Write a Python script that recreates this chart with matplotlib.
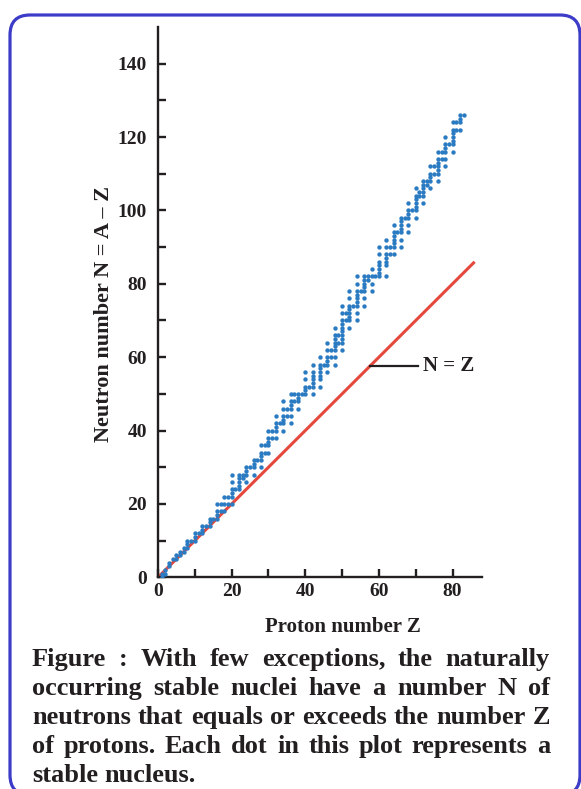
import matplotlib
matplotlib.use('Agg')
import matplotlib.pyplot as plt
from matplotlib.patches import FancyBboxPatch
import numpy as np

plt.rcParams['font.family'] = ['Liberation Serif', 'DejaVu Serif']
plt.rcParams['font.weight'] = 'bold'

ink = '#231f20'

# proton numbers of the stable elements (no Tc, no Pm)
proton_z = [1, 2, 3, 4, 5, 6, 7, 8, 9, 10, 11, 12, 13, 14, 15, 16, 17, 18, 19, 20,
            21, 22, 23, 24, 25, 26, 27, 28, 29, 30, 31, 32, 33, 34, 35, 36, 37, 38, 39, 40,
            41, 42, 44, 45, 46, 47, 48, 49, 50, 51, 52, 53, 54, 55, 56, 57, 58, 59, 60,
            62, 63, 64, 65, 66, 67, 68, 69, 70, 71, 72, 73, 74, 75, 76, 77, 78, 79, 80,
            81, 82, 83]
# neutron numbers of the stable isotopes, one list per element above
neutron_n = [
    [0, 1], [1, 2], [3, 4], [5], [5, 6], [6, 7], [7, 8], [8, 9, 10], [10], [10, 11, 12],
    [12], [12, 13, 14], [14], [14, 15, 16], [16], [16, 17, 18, 20], [18, 20], [18, 20, 22],
    [20, 22], [20, 22, 23, 24, 26, 28],
    [24], [24, 25, 26, 27, 28], [27, 28], [26, 28, 29, 30], [30], [28, 30, 31, 32], [32],
    [30, 32, 33, 34, 36], [34, 36], [34, 36, 37, 38, 40], [38, 40], [38, 40, 41, 42, 44],
    [42], [40, 42, 43, 44, 46, 48], [44, 46], [42, 44, 46, 47, 48, 50], [48, 50],
    [46, 48, 49, 50], [50], [50, 51, 52, 54, 56],
    [52], [50, 52, 53, 54, 55, 56, 58], [52, 54, 55, 56, 57, 58, 60], [58],
    [56, 58, 59, 60, 62, 64], [60, 62], [58, 60, 62, 63, 64, 65, 66, 68], [64, 66],
    [62, 64, 65, 66, 67, 68, 69, 70, 72, 74], [70, 72], [68, 70, 71, 72, 73, 74, 76, 78],
    [74], [70, 72, 74, 75, 76, 77, 78, 80, 82], [78], [74, 76, 78, 79, 80, 81, 82],
    [81, 82], [78, 80, 82, 84], [82], [82, 83, 84, 85, 86, 88, 90],
    [82, 85, 86, 87, 88, 90, 92], [88, 90], [88, 90, 91, 92, 93, 94, 96], [94],
    [90, 92, 94, 95, 96, 97, 98], [98], [94, 96, 98, 99, 100, 102], [100],
    [98, 100, 101, 102, 103, 104, 106], [104, 105], [102, 104, 105, 106, 107, 108],
    [107, 108], [106, 108, 109, 110, 112], [110, 112], [108, 110, 111, 112, 113, 114, 116],
    [114, 116], [112, 114, 116, 117, 118, 120], [118], [116, 118, 119, 120, 121, 122, 124],
    [122, 124], [122, 124, 125, 126], [126],
]
line_z = [0, 86]

caption_lines = [
    'Figure : With few exceptions, the naturally',
    'occurring stable nuclei have a number N of',
    'neutrons that equals or exceeds the number Z',
    'of protons. Each dot in this plot represents a',
    'stable nucleus.',
]

zs, ns = [], []
for z, nlist in zip(proton_z, neutron_n):
    for n in nlist:
        zs.append(z)
        ns.append(n)

W, H = 581, 789
fig = plt.figure(figsize=(W / 100, H / 100), dpi=100)
fig.patch.set_facecolor('white')

# rounded blue frame
frame = FancyBboxPatch((0.10, -0.06), 5.70, 7.80, boxstyle='round,pad=0,rounding_size=0.2',
                       transform=fig.dpi_scale_trans, facecolor='none',
                       edgecolor='#3c3cc8', linewidth=2.3, zorder=0)
fig.patches.append(frame)

ax = fig.add_axes([158 / W, 1 - 577.3 / H, (482 - 158) / W, (577.3 - 27) / H])
ax.plot(line_z, line_z, color='#e5483c', lw=2.2, zorder=2, solid_capstyle='butt')
ax.scatter(zs, ns, s=10, color='#2b7bc2', zorder=3, linewidths=0)

ax.set_xlim(0, 88)
ax.set_ylim(0, 150)
for s in ['top', 'right']:
    ax.spines[s].set_visible(False)
for s in ['left', 'bottom']:
    ax.spines[s].set_linewidth(1.7)
    ax.spines[s].set_color(ink)

ax.set_xticks([0, 20, 40, 60, 80])
ax.set_xticks([10, 30, 50, 70], minor=True)
ax.set_yticks(np.arange(0, 141, 20))
ax.set_yticks(np.arange(10, 131, 20), minor=True)
ax.tick_params(which='both', direction='in', length=6, width=1.7, color=ink,
               labelsize=14, labelcolor=ink)
ax.tick_params(axis='y', which='both', pad=8)
ax.tick_params(axis='x', which='both', pad=4)

# N = Z pointer
ax.plot([57.5, 70.5], [57.5, 57.5], color=ink, lw=1.6, zorder=4)
ax.text(72, 57.5, 'N = Z', fontsize=15, color=ink, va='center', ha='left')

ax.text((343 - 158) / 324, (577.3 - 627) / 550.3, 'Proton number Z', transform=ax.transAxes,
        fontsize=15, color=ink, ha='center', va='center')
ax.text((104 - 158) / 324, (577.3 - 314) / 550.3, 'Neutron number N = A \u2013 Z',
        transform=ax.transAxes, rotation=90, fontsize=16, color=ink, ha='center', va='center')

# justified caption
fig.canvas.draw()
renderer = fig.canvas.get_renderer()
left_px, right_px = 32, 550
baselines = [666, 695, 724, 753, 782]
for i, line in enumerate(caption_lines):
    words = line.split(' ')
    texts = [fig.text(0, 0, w, fontsize=19, color=ink, ha='left', va='baseline') for w in words]
    widths = [t.get_window_extent(renderer).width for t in texts]
    if i < len(caption_lines) - 1 and len(words) > 1:
        gap = (right_px - left_px - sum(widths)) / (len(words) - 1)
    else:
        gap = 0.25 * 19 * 100 / 72
    x = left_px
    for t, w in zip(texts, widths):
        t.set_position((x / W, 1 - baselines[i] / H))
        x += w + gap

fig.savefig('out.png', dpi=100, facecolor='white')
